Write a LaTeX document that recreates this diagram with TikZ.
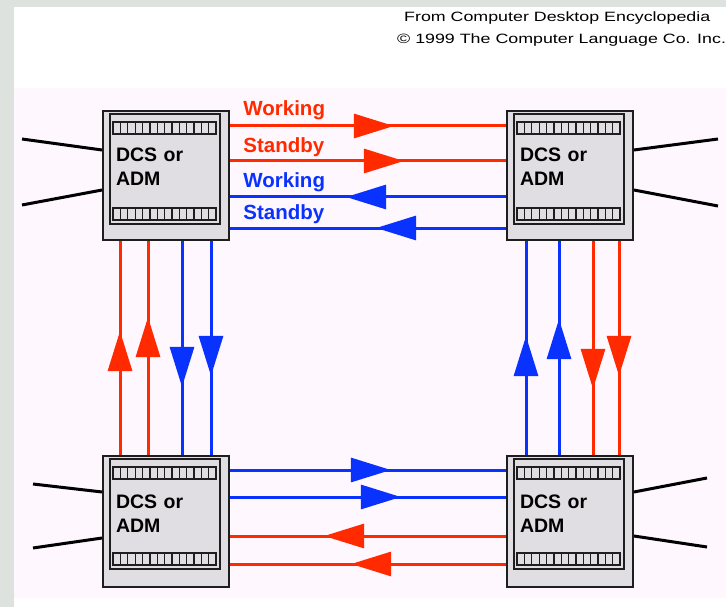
\documentclass[tikz,border=0pt]{standalone}
\usepackage{fontspec}
\setmainfont{Liberation Sans}
\newfontfamily\creditfont[FakeStretch=1.32]{Liberation Sans}
\usetikzlibrary{decorations.markings,arrows.meta}

\definecolor{sdhred}{RGB}{255,42,0}
\definecolor{sdhblue}{RGB}{10,50,255}
\definecolor{boxgray}{RGB}{224,222,226}
\definecolor{edge}{RGB}{30,30,30}
\definecolor{tint}{RGB}{254,247,253}
\definecolor{surround}{RGB}{222,226,222}

\begin{document}
\begin{tikzpicture}[x=1pt,y=-1pt,
  dcs/.style={draw=edge, fill=boxgray, line width=1.8pt,
    minimum width=126pt, minimum height=#1, inner sep=0pt,
    text width=100pt, align=left, text height=14pt, text depth=41pt,
    font=\fontsize{19.5}{24}\selectfont\bfseries},
  frame/.style={draw=edge, line width=1.8pt},
  slots/.style={draw=edge, line width=1.6pt, fill=boxgray},
  slotline/.style={draw=edge, line width=1.3pt},
  fibre/.style={line width=3pt},
  ext/.style={line width=3pt, black},
  headat/.style={postaction={decorate, decoration={markings,
    mark=at position #1 with {\arrow{Triangle[length=40pt,width=24pt]}}}}},
  lbl/.style={anchor=base west, inner sep=0pt,
    font=\fontsize{20.5}{24}\selectfont\bfseries},
  credit/.style={anchor=base west, inner sep=0pt,
    font=\creditfont\fontsize{13.5}{16}\selectfont}
]
  % page background
  \fill[surround] (0,0) rectangle (726,607);
  \fill[white] (14,7) rectangle (726,607);
  \fill[tint] (14,88) rectangle (726,598);
  \useasboundingbox (0,0) rectangle (726,607);

  % credit lines
  \node[credit] (src) at (404,22) {From Computer Desktop Encyclopedia};
  \node[credit] (copy) at (397,44) {\textcopyright\ 1999 The Computer Language Co. Inc.};

  % the four network elements
  \node[dcs=129pt] (tl) at (166,175.5) {DCS or\\ADM};
  \node[dcs=129pt] (tr) at (570,175.5) {DCS or\\ADM};
  \node[dcs=131pt] (bl) at (166,521.5) {DCS or\\ADM};
  \node[dcs=131pt] (br) at (570,521.5) {DCS or\\ADM};

  % inner frame and the two card slots of each element
  \foreach \n in {tl,tr,bl,br} {
    \begin{scope}[shift={(\n.north west)}]
      \draw[frame] (8,4) rectangle (118,114);
      \foreach \sy in {12,98} {
        \draw[slots] (11,\sy) rectangle (114,\sy+12);
        \foreach \i in {1,...,13}
          \draw[slotline] (11+\i*103/14,\sy) -- ++(0,12);
      }
    \end{scope}
  }

  % tributary links
  \coordinate (tl-a) at (22,139);  \coordinate (tl-b) at (22,205);
  \coordinate (tr-a) at (718,139); \coordinate (tr-b) at (718,206);
  \coordinate (bl-a) at (33,484);  \coordinate (bl-b) at (33,548);
  \coordinate (br-a) at (707,478); \coordinate (br-b) at (707,547);
  \draw[ext] ([yshift=25.5pt]tl.west) -- (tl-a);
  \draw[ext] ([yshift=-14.5pt]tl.west) -- (tl-b);
  \draw[ext] ([yshift=25.5pt]tr.east) -- (tr-a);
  \draw[ext] ([yshift=-14.5pt]tr.east) -- (tr-b);
  \draw[ext] ([yshift=29.5pt]bl.west) -- (bl-a);
  \draw[ext] ([yshift=-16.5pt]bl.west) -- (bl-b);
  \draw[ext] ([yshift=29.5pt]br.east) -- (br-a);
  \draw[ext] ([yshift=-14.5pt]br.east) -- (br-b);

  % top span
  \draw[fibre, sdhred, headat=164pt] ([yshift=49.5pt]tl.east) -- ([yshift=49.5pt]tr.west)
    node[lbl, pos=0, xshift=12pt, yshift=10pt] {Working};
  \draw[fibre, sdhred, headat=174pt] ([yshift=14.5pt]tl.east) -- ([yshift=14.5pt]tr.west)
    node[lbl, pos=0, xshift=12pt, yshift=8pt] {Standby};
  \draw[fibre, sdhblue, headat=160pt] ([yshift=-21.5pt]tr.west) -- ([yshift=-21.5pt]tl.east)
    node[lbl, pos=1, xshift=12pt, yshift=9pt] {Working};
  \draw[fibre, sdhblue, headat=130pt] ([yshift=-52.5pt]tr.west) -- ([yshift=-52.5pt]tl.east)
    node[lbl, pos=1, xshift=12pt, yshift=9pt] {Standby};

  % bottom span
  \draw[fibre, sdhblue, headat=161pt] ([yshift=51.5pt]bl.east) -- ([yshift=51.5pt]br.west);
  \draw[fibre, sdhblue, headat=171pt] ([yshift=24.5pt]bl.east) -- ([yshift=24.5pt]br.west);
  \draw[fibre, sdhred, headat=182pt] ([yshift=-14.5pt]br.west) -- ([yshift=-14.5pt]bl.east);
  \draw[fibre, sdhred, headat=155pt] ([yshift=-42.5pt]br.west) -- ([yshift=-42.5pt]bl.east);

  % left span
  \draw[fibre, sdhred, headat=124pt] ([xshift=-46pt]bl.north) -- ([xshift=-46pt]tl.south);
  \draw[fibre, sdhred, headat=138pt] ([xshift=-18pt]bl.north) -- ([xshift=-18pt]tl.south);
  \draw[fibre, sdhblue, headat=146pt] ([xshift=16pt]tl.south) -- ([xshift=16pt]bl.north);
  \draw[fibre, sdhblue, headat=135pt] ([xshift=45pt]tl.south) -- ([xshift=45pt]bl.north);

  % right span
  \draw[fibre, sdhblue, headat=119pt] ([xshift=-44pt]br.north) -- ([xshift=-44pt]tr.south);
  \draw[fibre, sdhblue, headat=136pt] ([xshift=-11pt]br.north) -- ([xshift=-11pt]tr.south);
  \draw[fibre, sdhred, headat=148pt] ([xshift=23pt]tr.south) -- ([xshift=23pt]br.north);
  \draw[fibre, sdhred, headat=135pt] ([xshift=49pt]tr.south) -- ([xshift=49pt]br.north);
\end{tikzpicture}
\end{document}
